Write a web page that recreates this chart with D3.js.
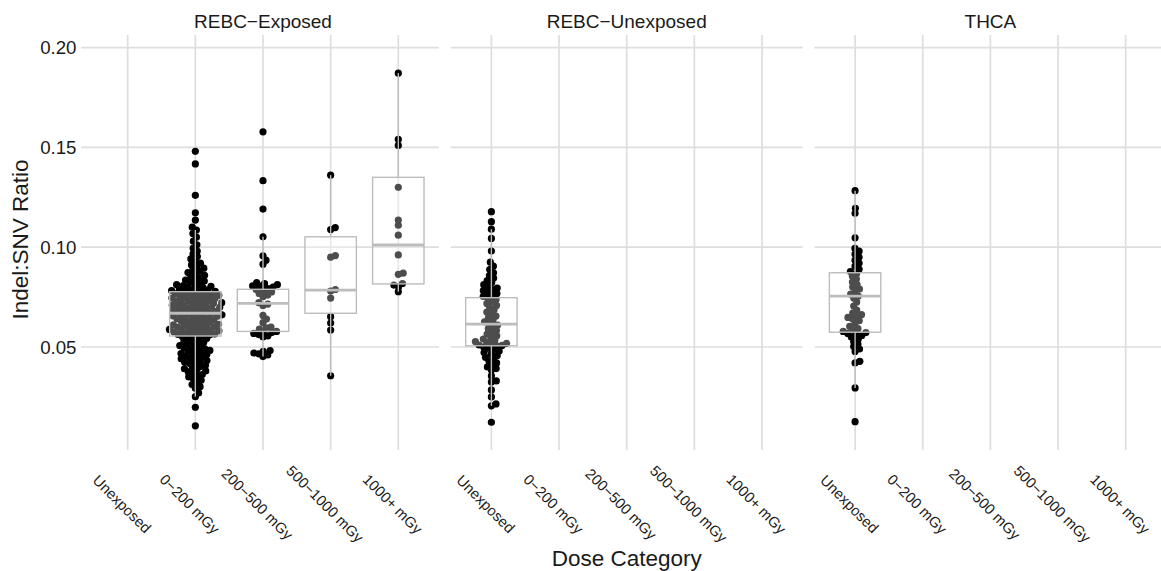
<!DOCTYPE html>
<html>
<head>
<meta charset="utf-8">
<script src="https://cdn.jsdelivr.net/npm/d3@7"></script>
<style>
  body { margin: 0; background: #fff; }
  svg { display: block; }
  text { font-family: "Liberation Sans", Arial, Helvetica, sans-serif; fill: #1a1a1a; }
</style>
</head>
<body>
<svg id="chart" width="1161" height="571"></svg>
<script>
// ---- data -------------------------------------------------------------
const cohorts = ["REBC−Exposed", "REBC−Unexposed", "THCA"];
const doseCategories = ["Unexposed", "0−200 mGy", "200−500 mGy", "500−1000 mGy", "1000+ mGy"];
const yTicks = [0.05, 0.10, 0.15, 0.20];

// Indel:SNV ratio per tumour, grouped by cohort and dose
const exposedDose0to200 = [
  0.0105, 0.0198, 0.0251, 0.0270, 0.0293, 0.0301, 0.0312, 0.0322, 0.0333, 0.0341,
  0.0350, 0.0356, 0.0362, 0.0369, 0.0375, 0.0380, 0.0386, 0.0391, 0.0397, 0.0402,
  0.0408, 0.0413, 0.0418, 0.0423, 0.0428, 0.0432, 0.0437, 0.0441, 0.0446, 0.0450,
  0.0455, 0.0459, 0.0463, 0.0467, 0.0471, 0.0475, 0.0479, 0.0483, 0.0487, 0.0491,
  0.0495, 0.0499, 0.0503, 0.0507, 0.0512, 0.0517, 0.0522, 0.0527, 0.0532, 0.0537,
  0.0542, 0.0547, 0.0551,
  0.0556, 0.0558, 0.0561, 0.0563, 0.0566, 0.0568, 0.0571, 0.0573, 0.0576, 0.0578,
  0.0581, 0.0583, 0.0586, 0.0588, 0.0591, 0.0593, 0.0596, 0.0599, 0.0601, 0.0604,
  0.0606, 0.0609, 0.0611, 0.0614, 0.0617, 0.0620, 0.0623, 0.0626, 0.0629, 0.0632,
  0.0635, 0.0638, 0.0641, 0.0644, 0.0646, 0.0649, 0.0651, 0.0654, 0.0656, 0.0659,
  0.0661, 0.0664, 0.0666, 0.0669, 0.0671, 0.0674, 0.0676, 0.0679, 0.0681, 0.0684,
  0.0686, 0.0689, 0.0691, 0.0694, 0.0696, 0.0699, 0.0701, 0.0704, 0.0706, 0.0709,
  0.0711, 0.0714, 0.0716, 0.0719, 0.0722, 0.0724, 0.0727, 0.0729, 0.0732, 0.0735,
  0.0737, 0.0740, 0.0743, 0.0745, 0.0748, 0.0751, 0.0753, 0.0756, 0.0759, 0.0761,
  0.0764, 0.0766, 0.0769, 0.0771, 0.0774, 0.0776,
  0.0779, 0.0782, 0.0785, 0.0788, 0.0791, 0.0794, 0.0797, 0.0800, 0.0804, 0.0808,
  0.0812, 0.0816, 0.0820, 0.0825, 0.0830, 0.0835, 0.0841, 0.0847, 0.0853, 0.0859,
  0.0866, 0.0873, 0.0880, 0.0887, 0.0895, 0.0903, 0.0911, 0.0920, 0.0930, 0.0941,
  0.0953, 0.0966, 0.0980, 0.0995, 0.1012, 0.1030, 0.1050, 0.1068, 0.1086, 0.1100,
  0.1136, 0.1172, 0.1260, 0.1417, 0.1480
];
const exposedDose200to500 = [
  0.0452, 0.0460, 0.0466, 0.0470, 0.0478, 0.0482, 0.0550, 0.0556, 0.0562, 0.0568,
  0.0572, 0.0575, 0.0578, 0.0590, 0.0596, 0.0600, 0.0622, 0.0640, 0.0658, 0.0708,
  0.0715, 0.0722, 0.0752, 0.0760, 0.0768, 0.0776, 0.0784, 0.0788, 0.0792, 0.0800,
  0.0805, 0.0806, 0.0812, 0.0818, 0.0822, 0.0915, 0.0935, 0.0957, 0.1052, 0.1191,
  0.1333, 0.1578
];
const exposedDose500to1000 = [
  0.0356, 0.0585, 0.0620, 0.0652, 0.0745, 0.0780, 0.0788, 0.0950, 0.0958, 0.1088,
  0.1098, 0.1361
];
const exposedDose1000plus = [
  0.0777, 0.0802, 0.0810, 0.0818, 0.0864, 0.0870, 0.0961, 0.1060, 0.1110, 0.1136,
  0.1300, 0.1510, 0.1540, 0.1872
];
const unexposedREBC = [
  0.0123, 0.0205, 0.0215, 0.0250, 0.0285, 0.0325, 0.0330, 0.0355, 0.0385, 0.0392,
  0.0400, 0.0410, 0.0420, 0.0430, 0.0440, 0.0448, 0.0457, 0.0465, 0.0472, 0.0480,
  0.0488, 0.0494, 0.0500, 0.0505,
  0.0508, 0.0510, 0.0514, 0.0518, 0.0522, 0.0527, 0.0533, 0.0540, 0.0548, 0.0556,
  0.0565, 0.0574, 0.0583, 0.0592, 0.0601, 0.0610, 0.0618, 0.0626, 0.0635, 0.0645,
  0.0655, 0.0665, 0.0675, 0.0686, 0.0697, 0.0708, 0.0718, 0.0728, 0.0738, 0.0746,
  0.0753, 0.0760, 0.0768, 0.0775, 0.0782, 0.0788, 0.0795, 0.0803, 0.0812, 0.0822,
  0.0833, 0.0845, 0.0858, 0.0872, 0.0888, 0.0905, 0.0925, 0.0981, 0.1044, 0.1090,
  0.1128, 0.1178
];
const unexposedTHCA = [
  0.0126, 0.0295, 0.0420, 0.0428, 0.0478, 0.0490, 0.0502, 0.0515, 0.0528, 0.0540,
  0.0550, 0.0558, 0.0563, 0.0568, 0.0572,
  0.0578, 0.0585, 0.0592, 0.0603, 0.0618, 0.0632, 0.0640, 0.0648, 0.0655, 0.0662,
  0.0670, 0.0685, 0.0705, 0.0725, 0.0745, 0.0755, 0.0765, 0.0778, 0.0790, 0.0800,
  0.0812, 0.0825, 0.0840, 0.0855, 0.0868,
  0.0878, 0.0890, 0.0905, 0.0920, 0.0935, 0.0950, 0.0965, 0.0980, 0.0994, 0.1047,
  0.1170, 0.1195, 0.1283
];

// one entry per drawn group
const groupCohort = ["REBC−Exposed", "REBC−Exposed", "REBC−Exposed", "REBC−Exposed", "REBC−Unexposed", "THCA"];
const groupDose   = ["0−200 mGy", "200−500 mGy", "500−1000 mGy", "1000+ mGy", "Unexposed", "Unexposed"];
const groupValues = [exposedDose0to200, exposedDose200to500, exposedDose500to1000, exposedDose1000plus, unexposedREBC, unexposedTHCA];

// boxplot summaries: lower whisker, Q1, median, Q3, upper whisker
const whiskerLow  = [0.0251, 0.0452, 0.0356, 0.0777, 0.0205, 0.0295];
const quartile1   = [0.0555, 0.0578, 0.0669, 0.0816, 0.0506, 0.0574];
const medians     = [0.0669, 0.0719, 0.0785, 0.1011, 0.0615, 0.0755];
const quartile3   = [0.0777, 0.0789, 0.1052, 0.1350, 0.0747, 0.0872];
const whiskerHigh = [0.1086, 0.1052, 0.1361, 0.1872, 0.1090, 0.1283];

// ---- layout -----------------------------------------------------------
const svg = d3.select("#chart");
const panelTop = 35, panelBottom = 444;
const panelWidth = 351.8, panelGap = 11.9, firstPanelLeft = 87.1;
const tickLen = 6;
const gridColor = "#dedede";
const boxColor = "#bdbdbd";
const dotR = 3.6;
const swarmSpacing = 5;

const y = d3.scaleLinear().domain([0.0014, 0.2063]).range([panelBottom, panelTop]);

const xScales = {};
cohorts.forEach((c, i) => {
  const left = firstPanelLeft + i * (panelWidth + panelGap);
  xScales[c] = d3.scalePoint().domain(doseCategories).range([left, left + panelWidth]).padding(0.6);
});
const step = xScales[cohorts[0]].step();

// ---- grid ---------------------------------------------------------------
const grid = svg.append("g");
cohorts.forEach((c, i) => {
  const x = xScales[c];
  const [x0, x1] = x.range();
  grid.selectAll(null).data(yTicks).join("line")
    .attr("x1", i === 0 ? x0 - tickLen : x0).attr("x2", x1)
    .attr("y1", d => y(d)).attr("y2", d => y(d))
    .attr("stroke", gridColor).attr("stroke-width", 1.7);
  grid.selectAll(null).data(doseCategories).join("line")
    .attr("x1", d => x(d)).attr("x2", d => x(d))
    .attr("y1", panelTop).attr("y2", panelBottom + tickLen)
    .attr("stroke", gridColor).attr("stroke-width", 1.7);
});

// ---- beeswarm layout ----------------------------------------------------
function swarmOffsets(py, dist) {
  const order = d3.range(py.length).sort((a, b) => py[b] - py[a]);
  const placed = [];
  const xs = new Array(py.length).fill(0);
  for (const i of order) {
    const yy = py[i];
    const near = placed.filter(p => Math.abs(p.y - yy) < dist);
    const cands = [0];
    near.forEach(p => {
      const dx = Math.sqrt(dist * dist - (p.y - yy) ** 2);
      cands.push(p.x + dx, p.x - dx);
    });
    cands.sort((a, b) => Math.abs(a) - Math.abs(b));
    let chosen = 0;
    for (const c of cands) {
      if (near.every(p => (p.x - c) ** 2 + (p.y - yy) ** 2 >= dist * dist - 0.01)) { chosen = c; break; }
    }
    xs[i] = chosen;
    placed.push({ x: chosen, y: yy });
  }
  return xs;
}

const points = svg.append("g");
groupValues.forEach((vals, g) => {
  const cx = xScales[groupCohort[g]](groupDose[g]);
  const py = vals.map(v => y(v));
  const off = swarmOffsets(py, swarmSpacing);
  points.selectAll(null).data(vals).join("circle")
    .attr("cx", (d, i) => cx + off[i])
    .attr("cy", d => y(d))
    .attr("r", dotR)
    .attr("fill", "#000");
});

// ---- boxplots (drawn over the points) -----------------------------------
const boxes = svg.append("g");
const boxW = step * 0.76;
groupValues.forEach((vals, g) => {
  const cx = xScales[groupCohort[g]](groupDose[g]);
  const gb = boxes.append("g");
  gb.append("line").attr("x1", cx).attr("x2", cx)
    .attr("y1", y(quartile3[g])).attr("y2", y(whiskerHigh[g]))
    .attr("stroke", boxColor).attr("stroke-width", 1.4);
  gb.append("line").attr("x1", cx).attr("x2", cx)
    .attr("y1", y(quartile1[g])).attr("y2", y(whiskerLow[g]))
    .attr("stroke", boxColor).attr("stroke-width", 1.4);
  gb.append("rect")
    .attr("x", cx - boxW / 2).attr("width", boxW)
    .attr("y", y(quartile3[g])).attr("height", y(quartile1[g]) - y(quartile3[g]))
    .attr("fill", "#fff").attr("fill-opacity", 0.3)
    .attr("stroke", boxColor).attr("stroke-width", 1.4);
  gb.append("line")
    .attr("x1", cx - boxW / 2).attr("x2", cx + boxW / 2)
    .attr("y1", y(medians[g])).attr("y2", y(medians[g]))
    .attr("stroke", boxColor).attr("stroke-width", 2.8);
});

// ---- strip labels ------------------------------------------------------
svg.append("g").selectAll("text").data(cohorts).join("text")
  .attr("x", c => { const r = xScales[c].range(); return (r[0] + r[1]) / 2; })
  .attr("y", 27.5)
  .attr("text-anchor", "middle")
  .attr("font-size", 19)
  .text(c => c);

// ---- y axis labels ------------------------------------------------------
svg.append("g").selectAll("text").data(yTicks).join("text")
  .attr("x", 76.5)
  .attr("y", d => y(d))
  .attr("dy", "0.36em")
  .attr("text-anchor", "end")
  .attr("font-size", 18.7)
  .text(d3.format(".2f"));

// ---- x axis labels (rotated) -------------------------------------------
cohorts.forEach(c => {
  const x = xScales[c];
  svg.append("g").selectAll("text").data(doseCategories).join("text")
    .attr("transform", d => `translate(${x(d) - 5.7},504) rotate(45)`)
    .attr("text-anchor", "middle")
    .attr("dy", "0.35em")
    .attr("font-size", 14.8)
    .text(d => d);
});

// ---- axis titles ----------------------------------------------------------
svg.append("text")
  .attr("x", (firstPanelLeft + firstPanelLeft + 3 * panelWidth + 2 * panelGap) / 2)
  .attr("y", 566)
  .attr("text-anchor", "middle")
  .attr("font-size", 22.5)
  .text("Dose Category");

svg.append("text")
  .attr("transform", `translate(28.3,${(panelTop + panelBottom) / 2}) rotate(-90)`)
  .attr("text-anchor", "middle")
  .attr("font-size", 22.5)
  .text("Indel:SNV Ratio");
</script>
</body>
</html>
